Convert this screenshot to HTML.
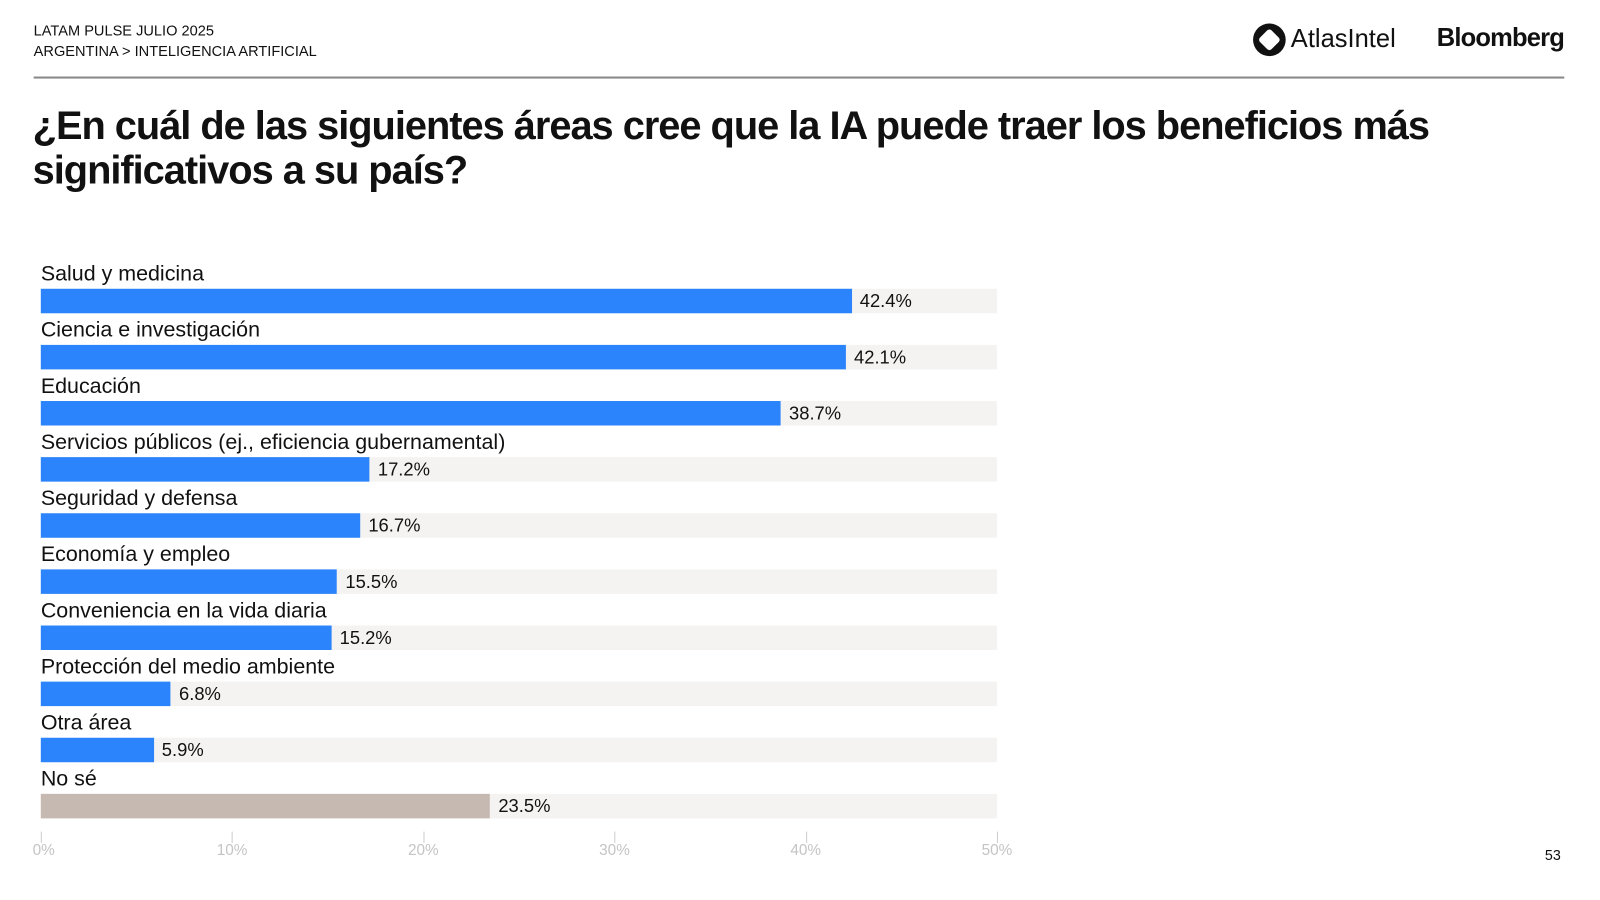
<!DOCTYPE html>
<html><head><meta charset="utf-8"><style>
body{margin:0;width:1600px;height:900px;background:#fff;font-family:"Liberation Sans",sans-serif;color:#111;position:relative;overflow:hidden}
#w{position:absolute;left:0;top:0;width:1570px;height:882px;transform:scale(1.0204);transform-origin:0 0}
.a{position:absolute;white-space:nowrap}
.hdr{font-size:14.3px;left:33px}
.lbl{font-size:21px;left:40px}
.bg{position:absolute;left:40px;width:937px;height:24px;background:#f4f3f1}
.bar{position:absolute;left:40px;height:24px;background:#2b84fb}
.val{font-size:18px}
.tk{position:absolute;top:815px;width:1px;height:11px;background:#ccc}
.tl{font-size:15px;color:#c4c4c4;top:825px}
</style></head><body><div id="w">
<div class="a hdr" style="top:23px">LATAM PULSE JULIO 2025</div>
<div class="a hdr" style="top:43px">ARGENTINA &gt; INTELIGENCIA ARTIFICIAL</div>
<div class="a" style="left:1228px;top:23px;width:32px;height:32px;border-radius:50%;background:#111"></div>
<div class="a" style="left:1236px;top:31px;width:16px;height:16px;background:#fff;transform:rotate(45deg);border-radius:3px"></div>
<div class="a" style="left:1265px;top:24px;font-size:25px">AtlasIntel</div>
<div class="a" style="left:1408px;top:23px;font-size:25px;font-weight:bold;letter-spacing:-0.8px">Bloomberg</div>
<div class="a" style="left:33px;top:75px;width:1500px;height:2px;background:#888"></div>
<div class="a" style="left:32px;top:102px;font-size:39px;font-weight:bold;line-height:44px;letter-spacing:-1px">¿En cuál de las siguientes áreas cree que la IA puede traer los beneficios más<br>significativos a su país?</div>
<div id="c"></div>
<div class="a" style="left:1514px;top:830px;font-size:14px">53</div>
</div>
<script>
const d=[["Salud y medicina",42.4],["Ciencia e investigación",42.1],["Educación",38.7],["Servicios públicos (ej., eficiencia gubernamental)",17.2],["Seguridad y defensa",16.7],["Economía y empleo",15.5],["Conveniencia en la vida diaria",15.2],["Protección del medio ambiente",6.8],["Otra área",5.9],["No sé",23.5]];
let h="";
d.forEach((r,i)=>{const y=283+i*55,w=r[1]*18.74;
h+=`<div class="a lbl" style="top:${y-26}px">${r[0]}</div><div class="bg" style="top:${y}px"></div><div class="bar" style="top:${y}px;width:${w}px;${i==9?'background:#c6b9b1':''}"></div><div class="a val" style="top:${y+2}px;left:${40+w+8}px">${r[1].toFixed(1)}%</div>`;});
for(let k=0;k<=5;k++){const x=40+k*187.4;h+=`<div class="tk" style="left:${x}px"></div><div class="a tl" style="left:${x-(k?15:8)}px">${k*10}%</div>`;}
document.getElementById("c").innerHTML=h;
</script>
</body></html>
